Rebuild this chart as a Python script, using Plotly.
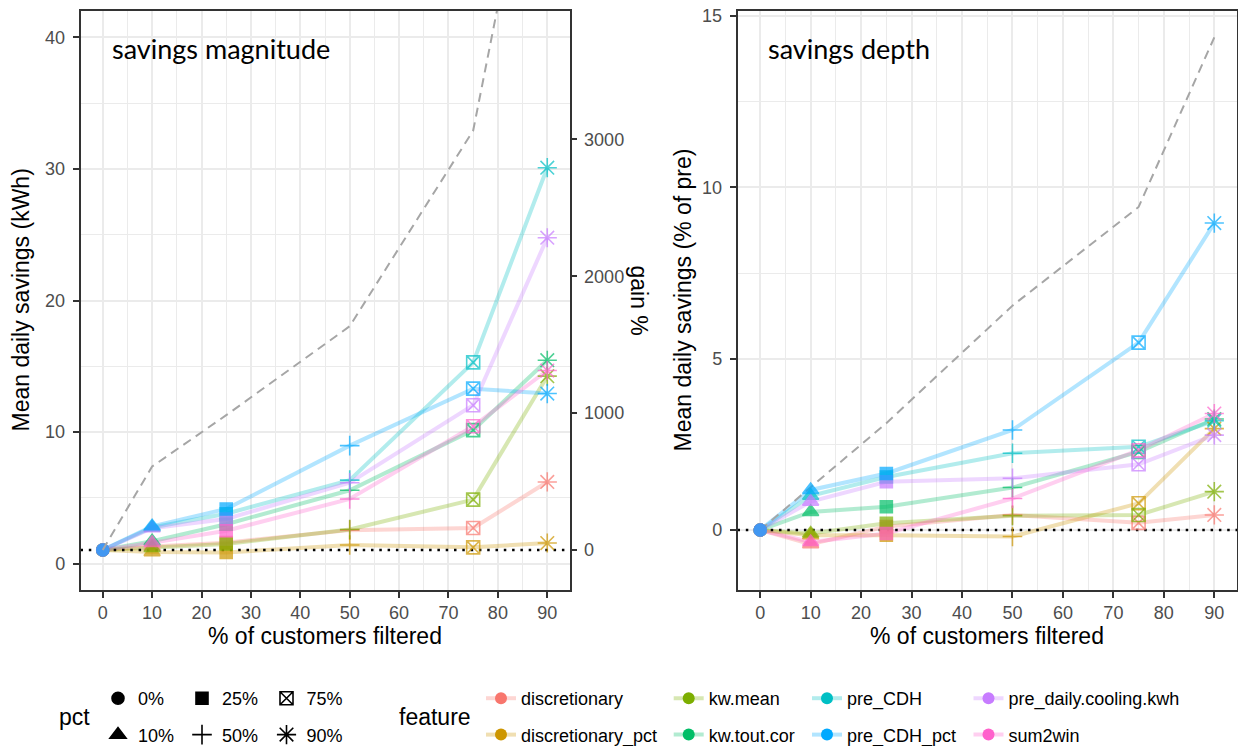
import plotly.graph_objects as go

W, H = 1238, 746

# x positions: % of customers filtered
pct_filtered = [0, 10, 25, 50, 75, 90]
pct_labels = ["0%", "10%", "25%", "50%", "75%", "90%"]
pct_symbols = ["circle", "triangle-up", "square", "cross-thin-open", "square-x-open", "asterisk-open"]
pct_sizes = [12, 14, 12, 14, 13, 16]

features = ["discretionary", "discretionary_pct", "kw.mean", "kw.tout.cor",
            "pre_CDH", "pre_CDH_pct", "pre_daily.cooling.kwh", "sum2win"]
feature_colors = ["#F8766D", "#CD9600", "#7CAE00", "#00BE67",
                  "#00BFC4", "#00A9FF", "#C77CFF", "#FF61CC"]
# stacking order of the point markers (last one on top)
marker_order = ["discretionary", "discretionary_pct", "kw.mean", "kw.tout.cor",
                "pre_CDH", "pre_daily.cooling.kwh", "sum2win", "pre_CDH_pct"]

# mean daily savings (kWh) with no filter
BASE_KWH = 1.04

# savings magnitude, kWh/day
magnitude = {
    "discretionary":         [1.04, 1.30, 1.60, 2.55, 2.71, 6.21],
    "discretionary_pct":     [1.04, 0.88, 0.85, 1.42, 1.24, 1.57],
    "kw.mean":               [1.04, 1.20, 1.50, 2.60, 4.87, 14.25],
    "kw.tout.cor":           [1.04, 1.70, 3.00, 5.58, 10.15, 15.46],
    "pre_CDH":               [1.04, 2.75, 3.80, 6.35, 15.30, 30.09],
    "pre_CDH_pct":           [1.04, 2.84, 4.16, 8.97, 13.30, 12.93],
    "pre_daily.cooling.kwh": [1.04, 2.70, 3.40, 6.15, 12.04, 24.77],
    "sum2win":               [1.04, 1.58, 2.50, 4.92, 10.44, 14.68],
}
# gain % of the savings magnitude (secondary axis)
magnitude_gain = [0, 610, 985, 1635, 3065, 5795]

# savings depth, % of pre-period use
depth = {
    "discretionary":         [0, -0.41, 0.10, 0.44, 0.21, 0.44],
    "discretionary_pct":     [0, -0.15, -0.15, -0.19, 0.78, 2.96],
    "kw.mean":               [0, -0.10, 0.20, 0.42, 0.44, 1.12],
    "kw.tout.cor":           [0, 0.53, 0.68, 1.24, 2.28, 3.24],
    "pre_CDH":               [0, 1.00, 1.55, 2.24, 2.43, 3.19],
    "pre_CDH_pct":           [0, 1.17, 1.65, 2.92, 5.47, 8.96],
    "pre_daily.cooling.kwh": [0, 0.83, 1.41, 1.51, 1.92, 2.77],
    "sum2win":               [0, -0.35, -0.10, 0.92, 2.33, 3.40],
}
depth_dashed = [0, 1.25, 3.12, 6.55, 9.43, 14.38]

X_RANGE = [-4.5, 94.5]
Y1_RANGE = [-2, 42]
Y2_RANGE = [-1.75, 15.15]


def to_gain(v):
    return (v / BASE_KWH - 1) * 100


Y3_RANGE = [to_gain(Y1_RANGE[0]), to_gain(Y1_RANGE[1])]


def rgba(hex_color, a):
    h = hex_color.lstrip("#")
    r, g, b = int(h[0:2], 16), int(h[2:4], 16), int(h[4:6], 16)
    return f"rgba({r},{g},{b},{a})"


color_of = dict(zip(features, feature_colors))

fig = go.Figure()

panels = [("x", "y", magnitude, BASE_KWH), ("x2", "y2", depth, 0)]

for xa, ya, data, base in panels:
    # translucent feature lines
    for f in features:
        fig.add_trace(go.Scatter(
            x=pct_filtered, y=data[f], xaxis=xa, yaxis=ya, mode="lines",
            line=dict(color=rgba(color_of[f], 0.3), width=4), showlegend=False,
            hoverinfo="skip"))
    # baseline (no-filter) reference
    fig.add_trace(go.Scatter(
        x=X_RANGE, y=[base, base], xaxis=xa, yaxis=ya, mode="lines",
        line=dict(color="black", width=2.5, dash="2.5px,5.8px"),
        showlegend=False, hoverinfo="skip"))

# dashed gain curve, savings depth
fig.add_trace(go.Scatter(
    x=pct_filtered, y=depth_dashed, xaxis="x2", yaxis="y2", mode="lines",
    line=dict(color="#A6A6A6", width=2, dash="9px,6px"), showlegend=False))

for xa, ya, data, base in panels:
    for f in marker_order:
        c = color_of[f]
        fig.add_trace(go.Scatter(
            x=pct_filtered, y=data[f], xaxis=xa, yaxis=ya, mode="markers",
            marker=dict(symbol=pct_symbols, size=pct_sizes, color=c,
                        line=dict(color=c, width=1.6)),
            showlegend=False, name=f))

# dashed gain curve, savings magnitude (gain % axis)
fig.add_trace(go.Scatter(
    x=pct_filtered, y=magnitude_gain, xaxis="x", yaxis="y3", mode="lines",
    line=dict(color="#A6A6A6", width=2, dash="9px,6px"), showlegend=False))

# legend entries: pct shapes (3 columns of 2) and features (4 columns of 2)
pct_legend_x = [98, 182, 266.5]
feat_legend_x = [481, 668.7, 807, 968.5]
legend_top = 680

for i, (lab, sym, sz) in enumerate(zip(pct_labels, pct_symbols, pct_sizes)):
    col = i // 2
    fig.add_trace(go.Scatter(
        x=[None], y=[None], mode="markers", name=lab,
        marker=dict(symbol=sym, size=sz, color="black",
                    line=dict(color="black", width=1.6)),
        legend="legend" if col == 0 else f"legend{col + 1}",
        legendgroup=lab, showlegend=True))

for i, f in enumerate(features):
    col = i // 2
    c = color_of[f]
    fig.add_trace(go.Scatter(
        x=[None], y=[None], mode="lines+markers", name=f,
        line=dict(color=rgba(c, 0.3), width=4),
        marker=dict(symbol="circle", size=12, color=c),
        legend=f"legend{col + 4}", legendgroup=f, showlegend=True))

legend_common = dict(orientation="v", bgcolor="rgba(0,0,0,0)", borderwidth=0,
                     font=dict(family="Liberation Sans", size=18, color="black"),
                     xanchor="left", yanchor="top", tracegroupgap=10,
                     y=1 - legend_top / H)
layout_legends = {}
for k, px in enumerate(pct_legend_x + feat_legend_x):
    key = "legend" if k == 0 else f"legend{k + 1}"
    layout_legends[key] = dict(legend_common, x=px / W)

tick_font = dict(family="Liberation Sans", size=18, color="#4D4D4D")
axis_common = dict(showline=True, linecolor="#333333", linewidth=1.5, mirror=True,
                   ticks="outside", ticklen=6, tickwidth=1.5, tickcolor="#333333",
                   tickfont=tick_font, zeroline=False, showgrid=True,
                   gridcolor="#EBEBEB", gridwidth=1.6, automargin=False)

y_dom = [1 - 590 / H, 1 - 11 / H]

fig.update_layout(
    width=W, height=H, margin=dict(l=0, r=0, t=0, b=0, autoexpand=False),
    plot_bgcolor="white", paper_bgcolor="white",
    xaxis=dict(axis_common, domain=[80.5 / W, 569.5 / W], range=X_RANGE,
               tickvals=[0, 10, 20, 30, 40, 50, 60, 70, 80, 90],
               minor=dict(dtick=5, tick0=0, showgrid=True, gridcolor="#EBEBEB",
                          gridwidth=0.8, ticks=""), anchor="y"),
    yaxis=dict(axis_common, domain=y_dom, range=Y1_RANGE,
               tickvals=[0, 10, 20, 30, 40], ticklabelstandoff=4,
               minor=dict(dtick=5, tick0=0, showgrid=True, gridcolor="#EBEBEB",
                          gridwidth=0.8, ticks=""), anchor="x"),
    yaxis3=dict(overlaying="y", side="right", anchor="x", range=Y3_RANGE,
                tickvals=[0, 1000, 2000, 3000], showgrid=False, zeroline=False,
                ticks="outside", ticklen=6, tickwidth=1.5, tickcolor="#333333",
                tickfont=tick_font, showline=False, ticklabelstandoff=4,
                automargin=False),
    xaxis2=dict(axis_common, domain=[737.5 / W, 1237 / W], range=X_RANGE,
                tickvals=[0, 10, 20, 30, 40, 50, 60, 70, 80, 90],
                minor=dict(dtick=5, tick0=0, showgrid=True, gridcolor="#EBEBEB",
                           gridwidth=0.8, ticks=""), anchor="y2"),
    yaxis2=dict(axis_common, domain=y_dom, range=Y2_RANGE,
                tickvals=[0, 5, 10, 15], ticklabelstandoff=4,
                minor=dict(dtick=2.5, tick0=0, showgrid=True, gridcolor="#EBEBEB",
                           gridwidth=0.8, ticks=""), anchor="x2"),
    **layout_legends,
)

title_font = dict(family="Liberation Sans", size=23, color="black")
panel_font = dict(family="Lato", size=27, color="black")


def px_annot(text, x, y, font, angle=0, xanchor="center"):
    fig.add_annotation(text=text, x=x / W, y=1 - y / H, xref="paper", yref="paper",
                       showarrow=False, font=font, textangle=angle,
                       xanchor=xanchor, yanchor="middle")


px_annot("savings magnitude", 110, 48, panel_font, xanchor="left")
px_annot("savings depth", 766, 48, panel_font, xanchor="left")
px_annot("% of customers filtered", 325, 636, title_font)
px_annot("% of customers filtered", 987, 636, title_font)
px_annot("Mean daily savings (kWh)", 20, 300.5, title_font, angle=-90)
px_annot("Mean daily savings (% of pre)", 682, 300.5, title_font, angle=-90)
px_annot("gain %", 639, 300.5, title_font, angle=90)
px_annot("pct", 74.6, 717, title_font)
px_annot("feature", 435, 717, title_font)

fig.write_html("out.html")
